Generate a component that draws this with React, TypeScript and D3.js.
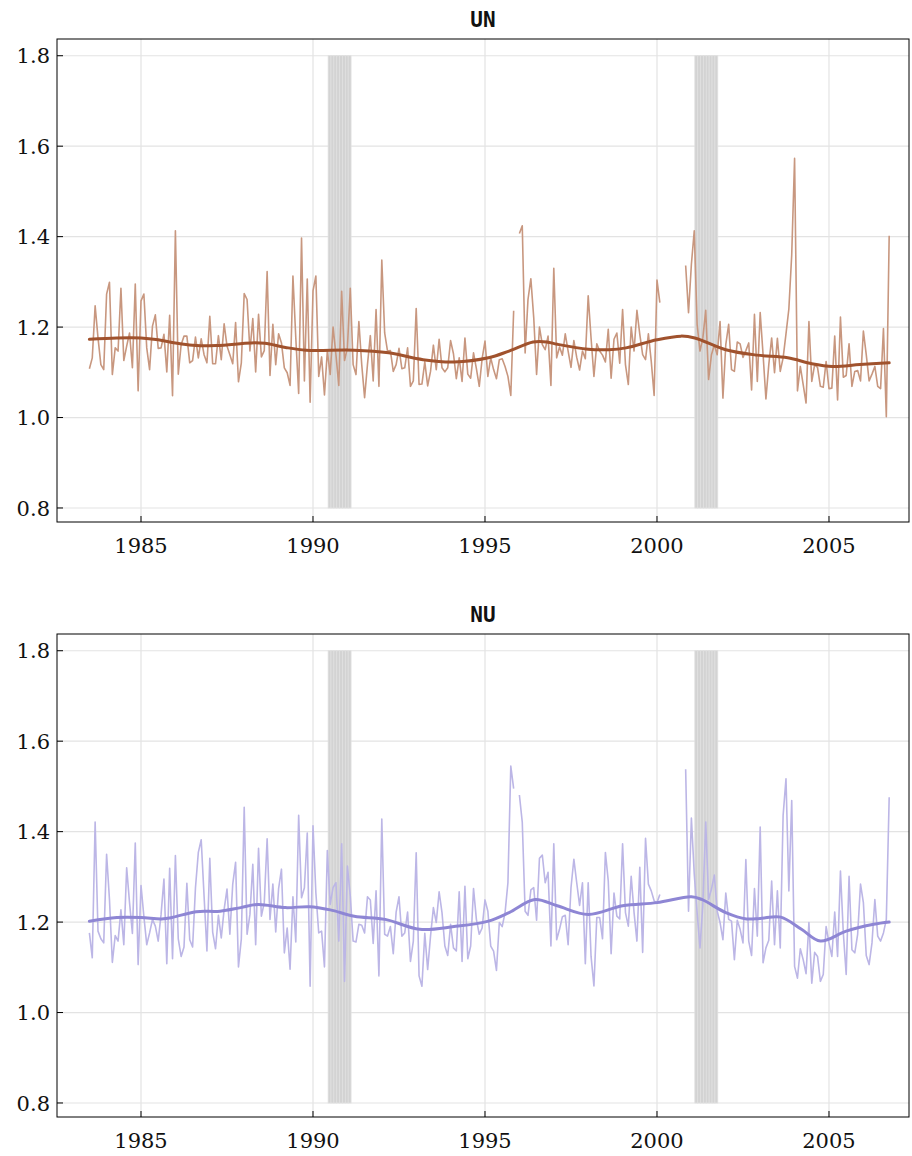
import { useEffect, useRef } from 'react';
import * as d3 from 'd3';

// monthly series, first value is July 1983; null = missing month
const startYear = 1983.5;

const unValues: (number | null)[] = [
  1.108, 1.132, 1.247, 1.176, 1.117, 1.106, 1.273, 1.299, 1.095, 1.154, 1.147, 1.286, 1.126, 1.158, 1.187, 1.110,
  1.295, 1.059, 1.258, 1.273, 1.154, 1.106, 1.202, 1.227, 1.153, 1.154, 1.184, 1.101, 1.226, 1.048, 1.413, 1.096,
  1.161, 1.180, 1.180, 1.121, 1.126, 1.178, 1.132, 1.174, 1.139, 1.121, 1.224, 1.119, 1.119, 1.181,
  1.128, 1.207, 1.158, 1.139, 1.119, 1.210, 1.079, 1.121, 1.274, 1.261, 1.147, 1.219, 1.101, 1.228, 1.134, 1.148,
  1.323, 1.093, 1.206, 1.117, 1.185, 1.165, 1.110, 1.099, 1.071, 1.313, 1.176, 1.053, 1.397, 1.081, 1.306, 1.034,
  1.280, 1.313, 1.091, 1.134, 1.050, 1.147, 1.095, 1.200, 1.139, 1.071, 1.279, 1.126, 1.154, 1.286, 1.117,
  1.095, 1.212, 1.117, 1.044, 1.117, 1.181, 1.081, 1.239, 1.069, 1.348, 1.187, 1.147, 1.148, 1.102, 1.117, 1.153,
  1.108, 1.110, 1.154, 1.069, 1.081, 1.241, 1.073, 1.074, 1.123, 1.070, 1.102, 1.160, 1.106, 1.173, 1.110, 1.101,
  1.110, 1.170, 1.141, 1.086, 1.132, 1.080, 1.176, 1.096, 1.087, 1.143, 1.108, 1.069, 1.130, 1.169, 1.091,
  1.132, 1.106, 1.086, 1.128, 1.130, 1.113, 1.091, 1.049, 1.236, null, 1.407, 1.424, 1.143, 1.261, 1.307, 1.221,
  1.095, 1.200, 1.161, 1.150, 1.180, 1.071, 1.330, 1.132, 1.156, 1.138, 1.185, 1.147, 1.111, 1.170, 1.133, 1.105,
  1.147, 1.130, 1.269, 1.176, 1.091, 1.163, 1.147, 1.138, 1.123, 1.195, 1.087, 1.173, 1.187, 1.120, 1.239, 1.117,
  1.073, 1.200, 1.147, 1.237, 1.184, 1.139, 1.128, 1.185, 1.124, 1.049, 1.304, 1.254,
  null, null, null, null, null, null, null, null,
  1.336, 1.232, 1.339, 1.413, 1.206, 1.147, 1.176, 1.237, 1.084, 1.139, 1.161, 1.139, 1.212, 1.043, 1.161, 1.206,
  1.106, 1.102, 1.167, 1.163, 1.133, 1.148, 1.165, 1.061, 1.228, 1.080, 1.232,
  1.140, 1.041, 1.117, 1.176, 1.099, 1.175, 1.102, 1.132, 1.185, 1.240, 1.360, 1.573, 1.059, 1.113, 1.073, 1.032,
  1.212, 1.080, 1.117, 1.111, 1.069, 1.067, 1.124, 1.064, 1.065, 1.180, 1.039, 1.222, 1.089, 1.093, 1.163, 1.069,
  1.102, 1.104, 1.081, 1.191, 1.139, 1.081, 1.096, 1.113, 1.069, 1.064, 1.197, 1.002, 1.402,
];

const nuValues: (number | null)[] = [
  1.176, 1.121, 1.421, 1.180, 1.163, 1.154, 1.350, 1.250, 1.111, 1.170, 1.158, 1.227, 1.150, 1.320, 1.243, 1.175,
  1.375, 1.106, 1.281, 1.213, 1.150, 1.176, 1.206, 1.191, 1.158, 1.217, 1.295, 1.108, 1.319, 1.119, 1.347, 1.163,
  1.124, 1.145, 1.286, 1.161, 1.145, 1.276, 1.354, 1.382, 1.258, 1.136, 1.341, 1.178, 1.141, 1.215,
  1.165, 1.228, 1.273, 1.173, 1.284, 1.332, 1.101, 1.163, 1.454, 1.173, 1.217, 1.328, 1.150, 1.363, 1.213, 1.243,
  1.384, 1.206, 1.284, 1.178, 1.274, 1.317, 1.132, 1.187, 1.096, 1.256, 1.156, 1.436, 1.254, 1.276, 1.397, 1.058,
  1.413, 1.265, 1.176, 1.180, 1.101, 1.358, 1.239, 1.276, 1.287, 1.158, 1.373, 1.069, 1.324, 1.258, 1.158,
  1.156, 1.195, 1.193, 1.176, 1.256, 1.249, 1.153, 1.269, 1.081, 1.428, 1.173, 1.169, 1.190, 1.130, 1.222, 1.256,
  1.169, 1.176, 1.222, 1.113, 1.158, 1.353, 1.081, 1.058, 1.175, 1.095, 1.169, 1.232, 1.199, 1.267, 1.221, 1.147,
  1.126, 1.195, 1.143, 1.136, 1.267, 1.113, 1.279, 1.119, 1.147, 1.274, 1.206, 1.173, 1.187, 1.249, 1.224,
  1.147, 1.136, 1.093, 1.199, 1.190, 1.221, 1.287, 1.545, 1.495, null, 1.481, 1.421, 1.224, 1.215, 1.271, 1.276,
  1.204, 1.341, 1.348, 1.287, 1.310, 1.147, 1.373, 1.161, 1.184, 1.212, 1.215, 1.150, 1.276, 1.339, 1.287, 1.237,
  1.287, 1.108, 1.287, 1.124, 1.059, 1.210, 1.210, 1.163, 1.354, 1.291, 1.130, 1.264, 1.213, 1.207, 1.373, 1.221,
  1.191, 1.301, 1.221, 1.158, 1.321, 1.133, 1.385, 1.284, 1.269, 1.247, 1.243, 1.261,
  null, null, null, null, null, null, null, null,
  1.538, 1.224, 1.430, 1.306, 1.221, 1.143, 1.239, 1.421, 1.250, 1.273, 1.304, 1.224, 1.199, 1.161, 1.264, 1.206,
  1.202, 1.117, 1.204, 1.184, 1.154, 1.338, 1.158, 1.126, 1.274, 1.169, 1.410,
  1.110, 1.143, 1.160, 1.291, 1.150, 1.269, 1.143, 1.436, 1.517, 1.269, 1.469, 1.102, 1.076, 1.141, 1.117, 1.086,
  1.199, 1.065, 1.133, 1.124, 1.069, 1.084, 1.190, 1.154, 1.124, 1.222, 1.124, 1.313, 1.176, 1.084, 1.301, 1.139,
  1.132, 1.173, 1.284, 1.243, 1.126, 1.106, 1.154, 1.250, 1.169, 1.158, 1.176, 1.206, 1.476,
];

// smoothed trend, read at knots (decimal years)
const unTrendYears = [1983.5, 1984.3, 1985.0, 1985.5, 1986.0, 1986.5, 1987.2, 1988.2, 1988.6, 1989.2, 1989.8, 1991.2,
  1992.2, 1993.2, 1994.1, 1995.1, 1995.7, 1996.4, 1996.8, 1997.1, 1998.0, 1998.6, 1999.1, 2000.0, 2000.7, 2001.1,
  2002.0, 2002.9, 2003.8, 2004.5, 2005.1, 2005.9, 2006.75];
const unTrendValues = [1.173, 1.176, 1.176, 1.172, 1.165, 1.160, 1.159, 1.165, 1.164, 1.155, 1.149, 1.149,
  1.143, 1.128, 1.123, 1.132, 1.147, 1.167, 1.167, 1.162, 1.151, 1.150, 1.154, 1.172, 1.180, 1.176,
  1.150, 1.138, 1.132, 1.119, 1.113, 1.117, 1.121];

const nuTrendYears = [1983.5, 1984.3, 1985.0, 1985.6, 1985.9, 1986.6, 1987.3, 1987.9, 1988.4, 1989.2, 1989.9, 1990.5,
  1991.2, 1992.1, 1993.1, 1994.1, 1995.1, 1995.7, 1996.45, 1997.1, 1998.0, 1999.0, 2000.0, 2001.0, 2001.3, 2002.0,
  2002.6, 2003.0, 2003.6, 2004.2, 2004.75, 2005.5, 2006.3, 2006.75];
const nuTrendValues = [1.202, 1.210, 1.210, 1.207, 1.210, 1.223, 1.224, 1.232, 1.239, 1.232, 1.234, 1.227,
  1.213, 1.206, 1.184, 1.190, 1.202, 1.221, 1.250, 1.236, 1.217, 1.236, 1.243, 1.256, 1.250, 1.221,
  1.207, 1.208, 1.211, 1.184, 1.158, 1.180, 1.195, 1.200];

const recessionStart = [1990.44, 2001.1];
const recessionMonths = [8, 8];

const xTicks = [1985, 1990, 1995, 2000, 2005];
const yTicks = [0.8, 1.0, 1.2, 1.4, 1.6, 1.8];

const panels = [
  { title: 'UN', values: unValues, trendX: unTrendYears, trendY: unTrendValues, raw: '#c8977f', color: '#a0522d', top: 39 },
  { title: 'NU', values: nuValues, trendX: nuTrendYears, trendY: nuTrendValues, raw: '#bcb6e6', color: '#8e86d4', top: 634 },
];

export default function App() {
  const svgRef = useRef<SVGSVGElement>(null);

  useEffect(() => {
    const svg = d3.select(svgRef.current);
    svg.selectAll('*').remove();

    const left = 57;
    const right = 909;
    const ph = 483;

    const x = d3.scaleLinear().domain([1982.558, 2007.326]).range([left, right]);

    panels.forEach((p) => {
      const y = d3.scaleLinear().domain([0.769, 1.837]).range([p.top + ph, p.top]);
      const g = svg.append('g');

      // grid
      g.selectAll(null).data(xTicks).join('line')
        .attr('x1', (d) => x(d)).attr('x2', (d) => x(d))
        .attr('y1', p.top).attr('y2', p.top + ph)
        .attr('stroke', '#e3e3e3').attr('stroke-width', 1.2);
      g.selectAll(null).data(yTicks).join('line')
        .attr('x1', left).attr('x2', right)
        .attr('y1', (d) => y(d)).attr('y2', (d) => y(d))
        .attr('stroke', '#e3e3e3').attr('stroke-width', 1.2);

      // recession shading, one stripe per month
      recessionStart.forEach((s, i) => {
        const months = d3.range(recessionMonths[i]).map((k) => s + k / 12);
        g.selectAll(null).data(months).join('rect')
          .attr('x', (d) => x(d))
          .attr('y', y(1.8))
          .attr('width', (d) => x(d + 1 / 12) - x(d))
          .attr('height', y(0.8) - y(1.8))
          .attr('fill', '#d3d3d3')
          .attr('stroke', '#e0e0e0')
          .attr('stroke-width', 0.8);
      });

      const pts = p.values.map((v, i) => ({ t: startYear + i / 12, v }));
      const line = d3.line<{ t: number; v: number | null }>()
        .defined((d) => d.v != null)
        .x((d) => x(d.t))
        .y((d) => y(d.v as number));

      g.append('path').datum(pts)
        .attr('d', line)
        .attr('fill', 'none')
        .attr('stroke', p.raw)
        .attr('stroke-width', 1.6)
        .attr('stroke-linejoin', 'round');

      const trend = p.trendX.map((t, i) => ({ t, v: p.trendY[i] }));
      const trendLine = d3.line<{ t: number; v: number }>()
        .x((d) => x(d.t))
        .y((d) => y(d.v))
        .curve(d3.curveCatmullRom.alpha(0.5));
      g.append('path').datum(trend)
        .attr('d', trendLine)
        .attr('fill', 'none')
        .attr('stroke', p.color)
        .attr('stroke-width', 3)
        .attr('stroke-linecap', 'round');

      // frame
      g.append('rect')
        .attr('x', left).attr('y', p.top)
        .attr('width', right - left).attr('height', ph)
        .attr('fill', 'none').attr('stroke', '#000').attr('stroke-width', 1);

      // ticks (inward)
      g.selectAll(null).data(xTicks).join('line')
        .attr('x1', (d) => x(d)).attr('x2', (d) => x(d))
        .attr('y1', p.top + ph).attr('y2', p.top + ph - 6)
        .attr('stroke', '#000');
      g.selectAll(null).data(yTicks).join('line')
        .attr('x1', left).attr('x2', left + 6)
        .attr('y1', (d) => y(d)).attr('y2', (d) => y(d))
        .attr('stroke', '#000');

      g.selectAll(null).data(xTicks).join('text')
        .attr('x', (d) => x(d)).attr('y', p.top + ph + 31)
        .attr('text-anchor', 'middle')
        .attr('font-family', 'DejaVu Serif')
        .attr('font-size', 21)
        .attr('fill', '#111')
        .text((d) => d);
      g.selectAll(null).data(yTicks).join('text')
        .attr('x', left - 7).attr('y', (d) => y(d))
        .attr('dy', '0.36em')
        .attr('text-anchor', 'end')
        .attr('font-family', 'DejaVu Serif')
        .attr('font-size', 21)
        .attr('fill', '#111')
        .text((d) => d.toFixed(1));

      g.append('text')
        .attr('x', (left + right) / 2).attr('y', p.top - 12)
        .attr('text-anchor', 'middle')
        .attr('font-family', 'DejaVu Sans Mono')
        .attr('font-weight', 'bold')
        .attr('font-size', 21)
        .attr('fill', '#111')
        .text(p.title);
    });
  }, []);

  return (
    <svg ref={svgRef} width={912} height={1156}
      style={{ position: 'absolute', left: 0, top: 0, background: '#fff' }} />
  );
}
